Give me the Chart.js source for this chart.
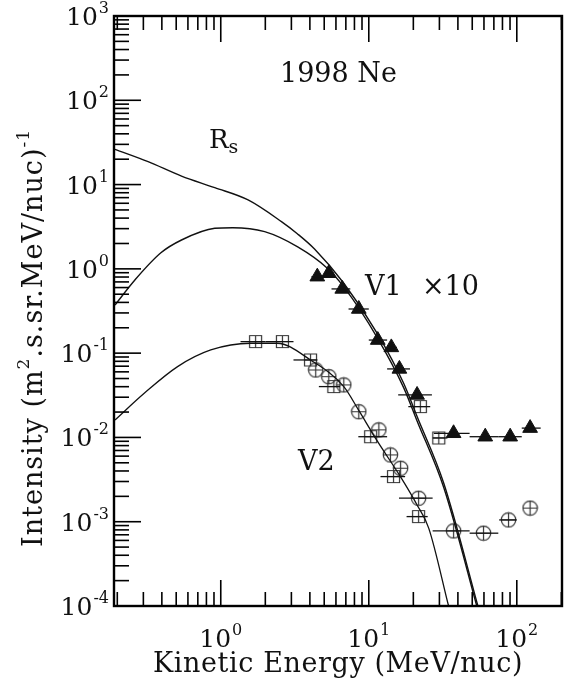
<!DOCTYPE html>
<html>
<head>
<meta charset="utf-8">
<script src="https://cdn.jsdelivr.net/npm/chart.js@4.4.1/dist/chart.umd.min.js"></script>
<style>
  html, body { margin: 0; padding: 0; background: #fff; overflow: hidden; }
  canvas { display: block; }
</style>
</head>
<body>
<canvas id="spec" width="565" height="679" style="width:565px;height:679px"></canvas>
<script>
// model curves
const rsX = [0.193, 0.323, 0.543, 0.911, 1.53, 2.57, 3.29, 4.30, 6.78, 11.4, 17.2, 21.2, 32.1, 56];
const rsY = [26.2, 18.7, 12.6, 9.2, 6.57, 3.63, 2.61, 1.72, 0.675, 0.172, 0.044, 0.0177, 0.00286, 8.5e-5];

const v1X = [0.193, 0.263, 0.394, 0.543, 0.911, 1.205, 1.98, 3.31, 5.2, 6.78, 11.4, 17.2, 21.2, 32.1, 56];
const v1Y = [0.373, 0.738, 1.55, 2.20, 3.03, 3.08, 2.76, 1.82, 1.03, 0.61, 0.153, 0.0390, 0.0157, 0.00254, 7.6e-5];

const v2X = [0.193, 0.304, 0.511, 0.856, 1.59, 2.41, 4.04, 6.78, 8.52, 11.4, 16.4, 21.2, 25.4, 34.6];
const v2Y = [0.0161, 0.0334, 0.0692, 0.109, 0.131, 0.131, 0.083, 0.0401, 0.0212, 0.00908, 0.0034, 0.00158, 8.4e-4, 1.0e-4];

// V1 (x10) measurements
const v1TriX  = [4.49, 5.37, 6.62, 8.56, 11.5, 14.2, 16.1, 21.2, 37.4, 61.2, 90.2, 123];
const v1TriY  = [0.808, 0.887, 0.578, 0.334, 0.143, 0.117, 0.065, 0.0319, 0.0112, 0.0102, 0.0102, 0.0129];
const v1TriLo = [4.1, 5.0, 5.6, 7.3, 10.0, 13.3, 13.3, 15.8, 27.5, 48, 75, 108];
const v1TriHi = [4.8, 5.8, 7.5, 10.0, 13.3, 15.5, 19.0, 26.7, 48, 75, 108, 145];

const v1SqX  = [22.3, 29.7];
const v1SqY  = [0.0232, 0.00986];
const v1SqLo = [18.5, 27];
const v1SqHi = [26, 34];

// V2 measurements
const v2SqX  = [1.72, 2.61, 4.04, 5.81, 10.3, 14.7, 21.7];
const v2SqY  = [0.137, 0.137, 0.083, 0.0401, 0.0102, 0.00343, 0.00115];
const v2SqLo = [1.36, 2.01, 3.1, 4.6, 8.5, 12, 18];
const v2SqHi = [2.01, 3.1, 4.5, 6.4, 13.3, 17.6, 25];

const v2CircX  = [4.38, 5.37, 6.78, 8.56, 11.7, 14.0, 16.4, 21.7, 37.4, 59.6, 87.9, 123];
const v2CircY  = [0.0632, 0.0526, 0.042, 0.0202, 0.0123, 0.0062, 0.00431, 0.0019, 7.78e-4, 7.31e-4, 0.00105, 0.00145];
const v2CircLo = [null, null, null, null, null, null, null, 16, 27, 48, 76, null];
const v2CircHi = [null, null, null, null, null, null, null, 27, 48, 75, 100, null];

// axis decades for tick labels
const xDecades = [0, 1, 2];
const yDecades = [-4, -3, -2, -1, 0, 1, 2, 3];

const FONT = '"DejaVu Serif", serif';
const INK = '#111';

function pts(xs, ys) {
    return xs.map((x, i) => ({ x: x, y: ys[i] }));
}

function markerCanvas(kind) {
    const c = document.createElement('canvas');
    c.width = 17; c.height = 17;
    const g = c.getContext('2d');
    g.strokeStyle = '#333';
    g.lineWidth = 1.2;
    g.beginPath();
    if (kind === 'square') {
        g.rect(2.5, 2.5, 12, 12);
        g.moveTo(8.5, 2.5); g.lineTo(8.5, 14.5);
        g.moveTo(2.5, 8.5); g.lineTo(14.5, 8.5);
    } else {
        g.arc(8.5, 8.5, 7.2, 0, Math.PI * 2);
        g.moveTo(8.5, 1.3); g.lineTo(8.5, 15.7);
        g.moveTo(1.3, 8.5); g.lineTo(15.7, 8.5);
    }
    g.stroke();
    return c;
}

const sqMark = markerCanvas('square');
const circMark = markerCanvas('circle');

function curve(xs, ys, w) {
    return {
        type: 'line', data: pts(xs, ys), borderColor: INK, borderWidth: w,
        pointRadius: 0, cubicInterpolationMode: 'monotone', fill: false
    };
}

function marks(xs, ys, lo, hi, style, r) {
    return {
        type: 'scatter', data: pts(xs, ys), showLine: false,
        pointStyle: style, pointRadius: r, pointBackgroundColor: INK,
        pointBorderColor: INK, pointBorderWidth: 1, errLo: lo, errHi: hi
    };
}

// horizontal energy-bin bars
const errorBars = {
    id: 'errorBars',
    afterDatasetsDraw(chart) {
        const { ctx, scales: { x, y } } = chart;
        ctx.save();
        ctx.strokeStyle = INK;
        ctx.lineWidth = 1.3;
        chart.data.datasets.forEach(ds => {
            if (!ds.errLo) return;
            ds.data.forEach((p, i) => {
                if (ds.errLo[i] == null) return;
                const py = y.getPixelForValue(p.y);
                ctx.beginPath();
                ctx.moveTo(x.getPixelForValue(ds.errLo[i]), py);
                ctx.lineTo(x.getPixelForValue(ds.errHi[i]), py);
                ctx.stroke();
            });
        });
        ctx.restore();
    }
};

function supText(ctx, base, sup, x, y, bigPx, smallPx, align) {
    ctx.font = bigPx + 'px ' + FONT;
    const wb = ctx.measureText(base).width;
    ctx.font = smallPx + 'px ' + FONT;
    const ws = ctx.measureText(sup).width;
    const total = wb + ws + 1;
    const x0 = align === 'center' ? x - total / 2 : x - total;
    ctx.font = bigPx + 'px ' + FONT;
    ctx.fillText(base, x0, y);
    ctx.font = smallPx + 'px ' + FONT;
    ctx.fillText(sup, x0 + wb + 1, y - 12);
}

// frame, inward ticks, labels
const frame = {
    id: 'frame',
    afterDraw(chart) {
        const { ctx, chartArea: a, scales: { x, y } } = chart;
        ctx.save();
        ctx.strokeStyle = '#000';
        ctx.lineWidth = 1.6;
        const seg = (x1, y1, x2, y2) => {
            ctx.beginPath(); ctx.moveTo(x1, y1); ctx.lineTo(x2, y2); ctx.stroke();
        };

        for (let d = -1; d <= 2; d++) {
            for (let k = 1; k <= 9; k++) {
                const v = k * Math.pow(10, d);
                if (v < 0.195 || v > 201) continue;
                const px = x.getPixelForValue(v);
                const len = k === 1 ? 26 : 14;
                seg(px, a.bottom, px, a.bottom - len);
                seg(px, a.top, px, a.top + len);
            }
        }
        for (let d = -4; d <= 3; d++) {
            for (let k = 1; k <= 9; k++) {
                const v = k * Math.pow(10, d);
                if (v > 1001) continue;
                const py = y.getPixelForValue(v);
                const len = k === 1 ? 27 : 15;
                seg(a.left, py, a.left + len, py);
            }
        }

        ctx.lineWidth = 2.4;
        ctx.strokeRect(a.left, a.top, a.right - a.left, a.bottom - a.top);

        ctx.fillStyle = INK;
        ctx.textBaseline = 'alphabetic';
        ctx.textAlign = 'left';
        xDecades.forEach(e => {
            supText(ctx, '10', String(e), x.getPixelForValue(Math.pow(10, e)), 647, 25, 16, 'center');
        });
        yDecades.forEach(e => {
            supText(ctx, '10', String(e), 109, y.getPixelForValue(Math.pow(10, e)) + 9, 25, 16, 'right');
        });

        // axis titles
        ctx.font = '27px ' + FONT;
        ctx.letterSpacing = '0.6px';
        ctx.textAlign = 'center';
        ctx.fillText('Kinetic Energy (MeV/nuc)', (a.left + a.right) / 2, 672);

        ctx.save();
        ctx.translate(42, 338);
        ctx.rotate(-Math.PI / 2);
        ctx.textAlign = 'left';
        ctx.letterSpacing = '1px';
        const parts = [['Intensity (m', 27, 0], ['2', 17, -13], ['.s.sr.MeV/nuc)', 27, 0], ['-1', 17, -13]];
        let total = 0;
        parts.forEach(p => { ctx.font = p[1] + 'px ' + FONT; total += ctx.measureText(p[0]).width; });
        let cx = -total / 2;
        parts.forEach(p => {
            ctx.font = p[1] + 'px ' + FONT;
            ctx.fillText(p[0], cx, p[2]);
            cx += ctx.measureText(p[0]).width;
        });
        ctx.restore();
        ctx.letterSpacing = '0px';

        // annotations
        ctx.textAlign = 'left';
        ctx.font = '27px ' + FONT;
        ctx.fillText('1998 Ne', 280, 82);
        ctx.fillText('V1', 365, 295);
        ctx.fillText('\u00d710', 422, 295);
        ctx.fillText('V2', 298, 470);
        ctx.font = '26px ' + FONT;
        ctx.fillText('R', 209, 148);
        const rw = ctx.measureText('R').width;
        ctx.font = '19px ' + FONT;
        ctx.fillText('s', 209 + rw, 153);
        ctx.restore();
    }
};

new Chart(document.getElementById('spec'), {
    data: {
        datasets: [
            curve(rsX, rsY, 1.4),
            curve(v1X, v1Y, 1.4),
            curve(v2X, v2Y, 1.3),
            marks(v1TriX, v1TriY, v1TriLo, v1TriHi, 'triangle', 8.5),
            marks(v1SqX, v1SqY, v1SqLo, v1SqHi, sqMark, 8),
            marks(v2SqX, v2SqY, v2SqLo, v2SqHi, sqMark, 8),
            marks(v2CircX, v2CircY, v2CircLo, v2CircHi, circMark, 8)
        ]
    },
    options: {
        responsive: false,
        animation: false,
        layout: { autoPadding: false, padding: { left: 114, right: 3, top: 16, bottom: 73 } },
        plugins: { legend: { display: false }, tooltip: { enabled: false } },
        scales: {
            x: { type: 'logarithmic', min: 0.19, max: 202, display: false },
            y: { type: 'logarithmic', min: 1e-4, max: 1e3, display: false }
        }
    },
    plugins: [errorBars, frame]
});
</script>
</body>
</html>
